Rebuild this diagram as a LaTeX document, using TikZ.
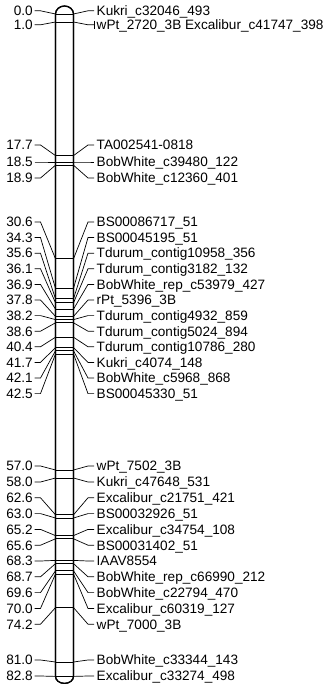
\documentclass[tikz,border=0pt]{standalone}
\usepackage{fontspec}
\setmainfont{Liberation Sans}
\begin{document}
\begin{tikzpicture}[x=1pt,y=1pt,
  lab/.style={inner sep=0pt, font=\fontsize{13.6}{16}\selectfont},
  chrom/.style={draw=black, line width=1.2pt, fill=white},
  bandline/.style={draw=black, line width=0.8pt},
  conn/.style={draw=black, line width=0.7pt}]
\useasboundingbox (0,0) rectangle (328,-684);
% chromosome body
\path[chrom] (55.5,-14) -- (55.5,-676.4) arc[start angle=180, end angle=360, x radius=9pt, y radius=7pt]
  -- (73.5,-14) arc[start angle=0, end angle=180, x radius=9pt, y radius=8pt] -- cycle;
\foreach \b/\l/\cm/\txt [count=\i] in {
  14.0/10.8/0.0/Kukri\_c32046\_493,
  22.0/24.8/1.0/wPt\_2720\_3B Excalibur\_c41747\_398,
  155.6/145/17.7/TA002541-0818,
  162.0/162/18.5/BobWhite\_c39480\_122,
  165.2/178/18.9/BobWhite\_c12360\_401,
  258.8/222/30.6/BS00086717\_51,
  288.4/237.6/34.3/BS00045195\_51,
  298.8/253.2/35.6/Tdurum\_contig10958\_356,
  302.8/268.8/36.1/Tdurum\_contig3182\_132,
  309.2/284.4/36.9/BobWhite\_rep\_c53979\_427,
  316.4/300/37.8/rPt\_5396\_3B,
  319.6/315.6/38.2/Tdurum\_contig4932\_859,
  322.8/331.2/38.6/Tdurum\_contig5024\_894,
  337.2/346.8/40.4/Tdurum\_contig10786\_280,
  347.6/362.4/41.7/Kukri\_c4074\_148,
  350.8/378/42.1/BobWhite\_c5968\_868,
  354.0/393.6/42.5/BS00045330\_51,
  470.0/466/57.0/wPt\_7502\_3B,
  478.0/482/58.0/Kukri\_c47648\_531,
  514.8/497.8/62.6/Excalibur\_c21751\_421,
  518.0/513.6/63.0/BS00032926\_51,
  535.6/529.4/65.2/Excalibur\_c34754\_108,
  538.8/545.2/65.6/BS00031402\_51,
  560.4/561/68.3/IAAV8554,
  563.6/576.8/68.7/BobWhite\_rep\_c66990\_212,
  570.8/592.6/69.6/BobWhite\_c22794\_470,
  574.0/608.4/70.0/Excalibur\_c60319\_127,
  607.6/624.2/74.2/wPt\_7000\_3B,
  662.0/660/81.0/BobWhite\_c33344\_143,
  676.4/676/82.8/Excalibur\_c33274\_498}
{
  \coordinate (bl\i) at (55.5,-\b);
  \coordinate (br\i) at (73.5,-\b);
  \coordinate (la\i) at (34.5,-\l);
  \coordinate (lb\i) at (40.5,-\l);
  \coordinate (ra\i) at (88,-\l);
  \coordinate (rb\i) at (94,-\l);
  \node[lab, anchor=base east] (cm\i) at (33,{-\l-4.8}) {\cm};
  \node[lab, anchor=base west] (mk\i) at (96.5,{-\l-4.8}) {\txt};
  \draw[bandline] (bl\i) -- (br\i);
  \draw[conn] (la\i) -- (lb\i) -- (bl\i);
  \draw[conn] (br\i) -- (ra\i) -- (rb\i);
}
% small bar before the second label
\coordinate (bart) at (94.5,-20.6);
\coordinate (barb) at (94.5,-29);
\draw[conn] (bart) -- (barb);
% outline on top
\draw[line width=1.2pt] (55.5,-14) -- (55.5,-676.4) arc[start angle=180, end angle=360, x radius=9pt, y radius=7pt]
  -- (73.5,-14) arc[start angle=0, end angle=180, x radius=9pt, y radius=8pt] -- cycle;
\end{tikzpicture}
\end{document}
